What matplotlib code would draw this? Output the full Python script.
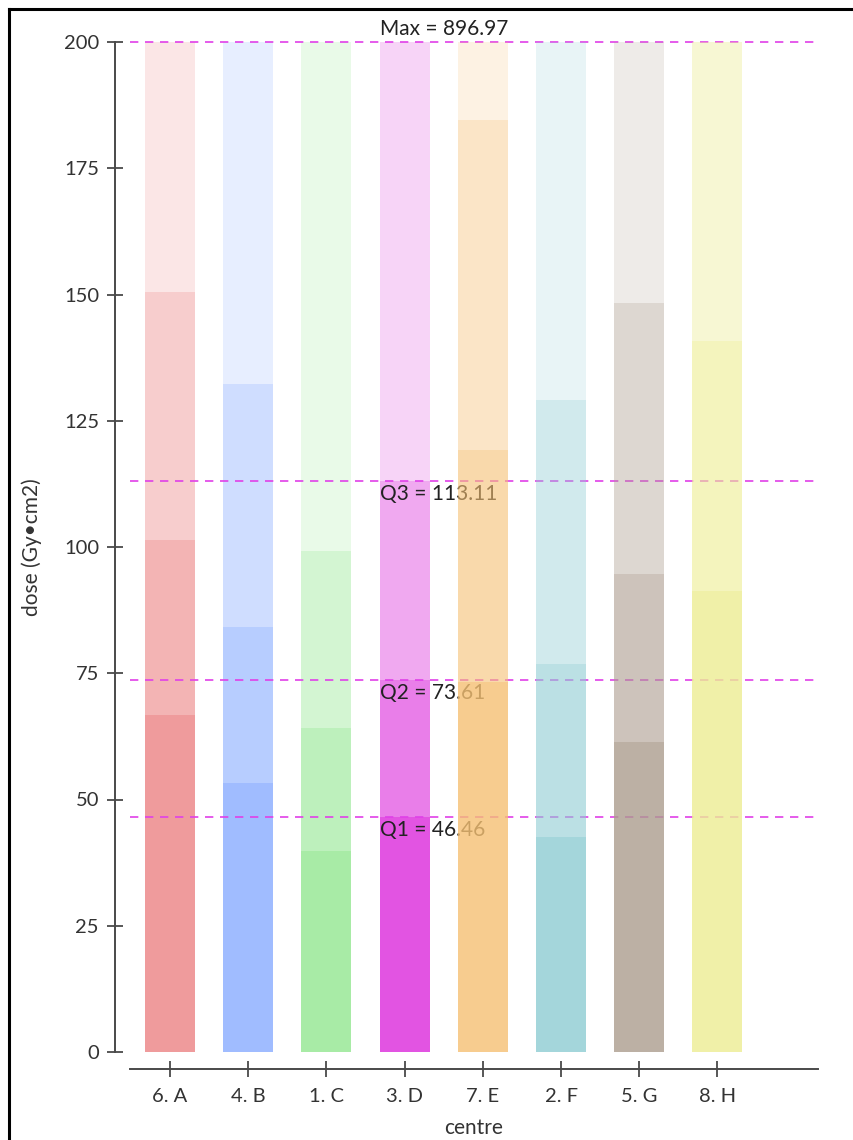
import matplotlib
matplotlib.use("Agg")
import matplotlib.pyplot as plt
from matplotlib.lines import Line2D

plt.rcParams['font.family'] = ['Lato', 'DejaVu Sans']

# ---- data ----
centres = ["6. A", "4. B", "1. C", "3. D", "7. E", "2. F", "5. G", "8. H"]
q1 = [66.7, 53.3, 39.8, 46.5, 73.3, 42.6, 61.4, 91.3]
q2 = [101.4, 84.2, 64.2, 73.6, 119.2, 76.8, 94.7, 140.8]
q3 = [150.5, 132.3, 99.2, 113.1, 184.6, 129.1, 148.3, 215.0]
maxv = [420.0, 380.0, 350.0, 896.97, 520.0, 400.0, 450.0, 300.0]
overall_labels = ["Q1", "Q2", "Q3", "Max"]
overall_values = [46.46, 73.61, 113.11, 896.97]
y_max_shown = 200
y_ticks = [0, 25, 50, 75, 100, 125, 150, 175, 200]

base_colors = ["#EC8283", "#88ACFF", "#92E690", "#DB29DB",
               "#F5C073", "#8ECCD3", "#AC9C8E", "#EDED92"]
seg_alpha = [0.8, 0.6, 0.4, 0.2]

W, H = 854, 1140
PX = 72 / 100  # points per pixel
fig = plt.figure(figsize=(W / 100, H / 100), dpi=100)
ax = fig.add_axes([130 / W, 1 - 1052 / H, (818 - 130) / W, (1052 - 42) / H])

xs = list(range(len(centres)))
bar_w = 0.64
for i, x in enumerate(xs):
    z = 1 if i < 4 else 3
    bounds = [0, q1[i], q2[i], q3[i], maxv[i]]
    for s in range(4):
        ax.bar(x, bounds[s + 1] - bounds[s], bottom=bounds[s], width=bar_w,
               color=base_colors[i], alpha=seg_alpha[s], linewidth=0, zorder=z)

line_color = "#E040E8"
label_x = 3 - bar_w / 2
lab_fs = 15
for lab, v in zip(overall_labels, overall_values):
    yv = min(v, y_max_shown)
    ax.axhline(yv, color=line_color, linestyle=(0, (5, 4)), linewidth=1.2,
               zorder=2, clip_on=False)
    txt = f"{lab} = {v:.2f}"
    if lab == "Max":
        ax.text(label_x, yv + 0.6, txt, ha="left", va="bottom", fontsize=lab_fs,
                color="#222222", zorder=2, clip_on=False)
    else:
        ax.text(label_x, yv - 0.6, txt, ha="left", va="top", fontsize=lab_fs,
                color="#222222", zorder=2, clip_on=False)

ax.set_xlim(-0.5115, 8.286)
ax.set_ylim(0, y_max_shown)
ax.set_xticks(xs)
ax.set_xticklabels(centres)
ax.set_yticks(y_ticks)

for sp in ["top", "right"]:
    ax.spines[sp].set_visible(False)
spine_c = "#4a4a4a"
ax.spines["left"].set_position(("outward", 15 * PX))
ax.spines["bottom"].set_position(("outward", 17 * PX))
for sp in ["left", "bottom"]:
    ax.spines[sp].set_color(spine_c)
    ax.spines[sp].set_linewidth(1.4)
ax.tick_params(axis="both", direction="inout", length=16 * PX, width=1.3,
               color=spine_c, labelsize=14.5, labelcolor="#333333")
ax.tick_params(axis="y", pad=8 * PX)
ax.tick_params(axis="x", pad=11 * PX)

ax.set_xlabel("centre", fontsize=15, color="#333333", labelpad=9)
ax.set_ylabel("dose (Gy\u2022cm2)", fontsize=15, color="#333333", labelpad=16)

# screenshot frame (top and left edges)
fig.add_artist(Line2D([9 / W, 1.0], [1 - 9 / H, 1 - 9 / H], transform=fig.transFigure,
                      color="black", linewidth=2.2))
fig.add_artist(Line2D([9 / W, 9 / W], [0.0, 1 - 9 / H], transform=fig.transFigure,
                      color="black", linewidth=2.2))

fig.savefig("out.png", dpi=100)
